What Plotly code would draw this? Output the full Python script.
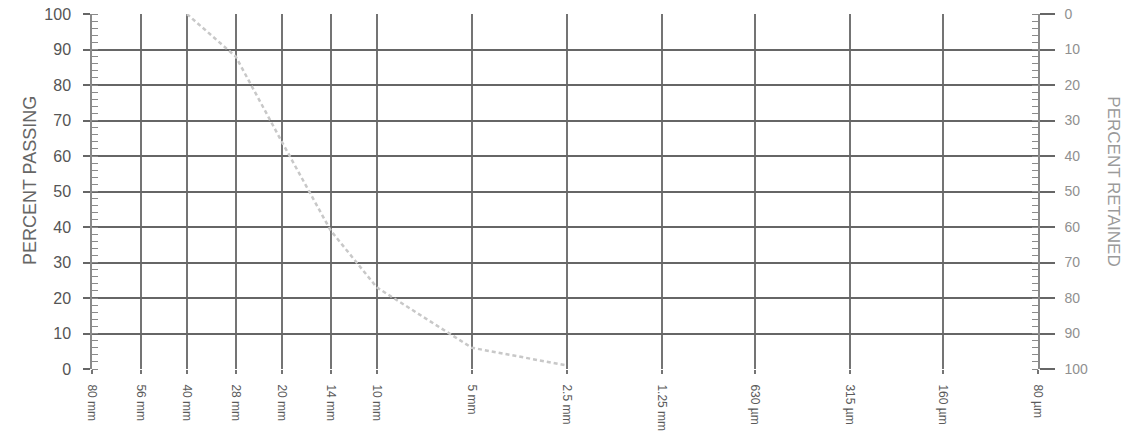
import math
import plotly.graph_objects as go

# Sieve sizes (mm) and their printed labels
sieve_mm = [80, 56, 40, 28, 20, 14, 10, 5, 2.5, 1.25, 0.63, 0.315, 0.16, 0.08]
sieve_labels = ["80 mm", "56 mm", "40 mm", "28 mm", "20 mm", "14 mm", "10 mm",
                "5 mm", "2.5 mm", "1.25 mm", "630 µm", "315 µm", "160 µm", "80 µm"]

# Grading curve: sieve size (mm) vs. percent passing
curve_mm = [40, 28, 20, 14, 10, 5, 2.5]
curve_passing = [100, 88, 64, 39, 23, 6, 1]

pct_ticks = list(range(0, 101, 10))

GRID_H = "#666666"
GRID_V = "#747474"
RULER = "#8a8a8a"

fig = go.Figure()

fig.add_trace(go.Scatter(
    x=curve_mm, y=curve_passing, mode="lines",
    line=dict(color="#c8c8c8", width=2.5, dash="4px,3px"),
    showlegend=False, hoverinfo="skip",
))

# invisible trace that activates the percent-retained axis
fig.add_trace(go.Scatter(
    x=[sieve_mm[0]], y=[0], yaxis="y2", mode="markers",
    marker=dict(opacity=0), showlegend=False, hoverinfo="skip",
))

fig.update_layout(
    width=1140, height=435,
    margin=dict(l=92, r=102, t=14, b=66, autoexpand=False),
    paper_bgcolor="white", plot_bgcolor="white",
    font=dict(family="Liberation Sans, Arial, sans-serif", color="#555"),
    xaxis=dict(
        type="log", autorange=False, automargin=False,
        range=[math.log10(max(sieve_mm)), math.log10(min(sieve_mm))],
        tickvals=sieve_mm, ticktext=sieve_labels, tickangle=90,
        tickfont=dict(size=12, color="#5a5a5a"),
        showgrid=True, gridcolor=GRID_V, gridwidth=1.8,
        zeroline=False, showline=False,
        ticks="outside", ticklen=4, tickwidth=1.5, tickcolor=GRID_V,
        ticklabelstandoff=8,
    ),
    yaxis=dict(
        range=[0, 100], tickvals=pct_ticks, automargin=False,
        tickfont=dict(size=16, color="#555"),
        showgrid=True, gridcolor=GRID_H, gridwidth=2.4,
        zeroline=False,
        showline=True, linecolor=RULER, linewidth=1.5,
        ticks="outside", ticklen=7, tickwidth=2.4, tickcolor=GRID_H,
        ticklabelstandoff=9,
        minor=dict(dtick=2, ticks="inside", ticklen=6, tickwidth=1.2,
                   tickcolor=RULER, showgrid=False),
    ),
    yaxis2=dict(
        overlaying="y", side="right", automargin=False,
        range=[100, 0], tickvals=pct_ticks,
        tickfont=dict(size=14, color="#909090"),
        showgrid=False, zeroline=False,
        showline=True, linecolor=RULER, linewidth=1.5,
        ticks="outside", ticklen=15, tickwidth=2.4, tickcolor=GRID_H,
        ticklabelstandoff=7,
        minor=dict(dtick=2, ticks="inside", ticklen=6, tickwidth=1.2,
                   tickcolor=RULER, showgrid=False),
    ),
    annotations=[
        dict(text="PERCENT PASSING", xref="paper", yref="paper",
             x=-0.078, y=0.53, textangle=-90, showarrow=False,
             font=dict(size=18, color="#666")),
        dict(text="PERCENT RETAINED", xref="paper", yref="paper",
             x=1.092, y=0.53, textangle=90, showarrow=False,
             font=dict(size=17, color="#9a9a9a")),
    ],
)

fig.write_html("out.html")
